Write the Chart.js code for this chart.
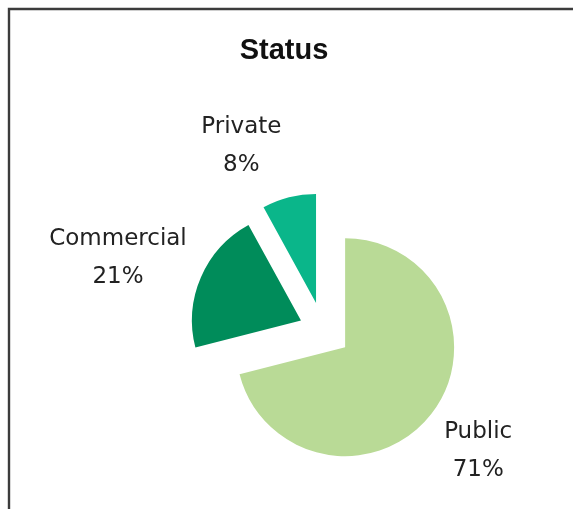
<!DOCTYPE html>
<html>
<head>
<meta charset="utf-8">
<style>
  html, body { margin: 0; padding: 0; background: #ffffff; }
  #wrap { position: relative; width: 573px; height: 509px; }
</style>
<script src="https://cdn.jsdelivr.net/npm/chart.js@4/dist/chart.umd.min.js"></script>
</head>
<body>
<div id="wrap"><canvas id="chart" width="573" height="509"></canvas></div>
<script>
// Ownership status breakdown
const chartTitle = 'Status';
const categories = ['Public', 'Commercial', 'Private'];
const shares = [71, 21, 8];              // percent of total
const sliceColors = ['#b9da96', '#008c5a', '#0ab68a'];

const PIE_RADIUS = 109;            // outer radius of each slice
const EXPLODE_BY = [28, 24, 28];   // how far each slice is pulled out from the centre
const LABEL_GAP = 10;              // space between slice rim and its label block
const LABEL_SIDE_PAD = 5;          // extra sideways clearance of a label block
const LABEL_DROP = 46;             // outward push of a label block along the bisector
const LABEL_SHIFT_Y = 3;           // small downward nudge for all labels
const LINE_STEP = 38;              // distance between the two lines of a label
const LABEL_FONT = '23px "DejaVu Sans", Verdana, sans-serif';
const TEXT_COLOR = '#222222';

// Frame lines along the top and left edge of the chart box
const framePlugin = {
  id: 'frame',
  beforeDraw(chart) {
    const ctx = chart.ctx;
    ctx.save();
    ctx.strokeStyle = '#3c3c3c';
    ctx.lineWidth = 2.4;
    ctx.beginPath();
    ctx.moveTo(9, chart.height);
    ctx.lineTo(9, 9);
    ctx.lineTo(chart.width, 9);
    ctx.stroke();
    ctx.restore();
  }
};

// Title text centred above the pie
const titlePlugin = {
  id: 'chartTitleText',
  afterDraw(chart) {
    const ctx = chart.ctx;
    ctx.save();
    ctx.font = 'bold 29px "Liberation Sans", Arial, sans-serif';
    ctx.fillStyle = '#111111';
    ctx.textAlign = 'center';
    ctx.textBaseline = 'alphabetic';
    ctx.fillText(chartTitle, 284, 59);
    ctx.restore();
  }
};

// Draws every arc pulled outward along its own bisector
const explodePlugin = {
  id: 'explodeSlices',
  beforeDatasetDraw(chart, args) {
    const ctx = chart.ctx;
    args.meta.data.forEach((arc, i) => {
      const mid = (arc.startAngle + arc.endAngle) / 2;
      ctx.save();
      ctx.translate(Math.cos(mid) * EXPLODE_BY[i], Math.sin(mid) * EXPLODE_BY[i]);
      arc.draw(ctx, chart.chartArea);
      ctx.restore();
    });
    return false;
  }
};

// Category name and percentage placed just outside each slice
const labelPlugin = {
  id: 'sliceLabels',
  afterDatasetsDraw(chart) {
    const ctx = chart.ctx;
    const meta = chart.getDatasetMeta(0);
    ctx.save();
    ctx.font = LABEL_FONT;
    ctx.fillStyle = TEXT_COLOR;
    ctx.textAlign = 'center';
    ctx.textBaseline = 'middle';
    meta.data.forEach((arc, i) => {
      const mid = (arc.startAngle + arc.endAngle) / 2;
      const dx = Math.cos(mid), dy = Math.sin(mid);
      const cx0 = arc.x + dx * EXPLODE_BY[i];
      const cy0 = arc.y + dy * EXPLODE_BY[i];
      const reach = arc.outerRadius + LABEL_GAP;
      const px = cx0 + dx * reach;
      const py = cy0 + dy * reach;
      const lines = [categories[i], shares[i] + '%'];
      const w = Math.max(...lines.map(t => ctx.measureText(t).width));
      const bx = px + (Math.abs(dx) > 0.1 ? Math.sign(dx) * (w / 2 + LABEL_SIDE_PAD) : 0);
      const by = py + dy * LABEL_DROP + LABEL_SHIFT_Y;
      ctx.fillText(lines[0], bx, by - LINE_STEP / 2);
      ctx.fillText(lines[1], bx, by + LINE_STEP / 2);
    });
    ctx.restore();
  }
};

new Chart(document.getElementById('chart'), {
  type: 'pie',
  data: {
    labels: categories,
    datasets: [{
      data: shares,
      backgroundColor: sliceColors,
      borderWidth: 0,
      hoverOffset: 0
    }]
  },
  options: {
    responsive: false,
    devicePixelRatio: 1,
    animation: false,
    radius: PIE_RADIUS,
    layout: { padding: { left: 73, right: 0, top: 151, bottom: 0 } },
    plugins: {
      legend: { display: false },
      title: { display: false },
      tooltip: { enabled: false }
    },
    events: []
  },
  plugins: [framePlugin, explodePlugin, labelPlugin, titlePlugin]
});
</script>
</body>
</html>
